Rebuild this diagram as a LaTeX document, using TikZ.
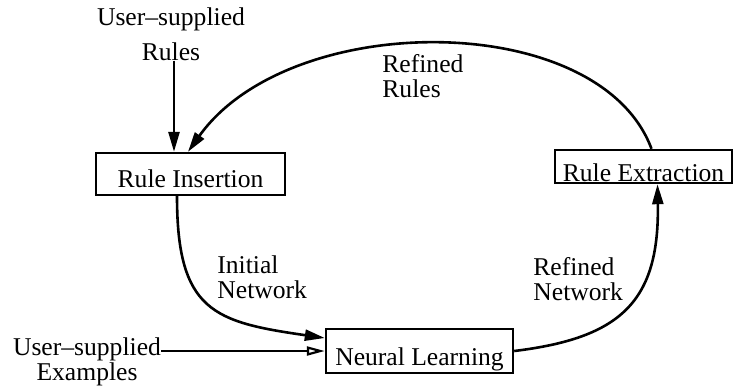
\documentclass[tikz,border=0pt]{standalone}
\usepackage{fontspec}
\setmainfont{Liberation Serif}
\usetikzlibrary{arrows.meta}
\begin{document}
\begin{tikzpicture}[x=0.5pt,y=-0.5pt]
\tikzstyle{box} = [draw, line width=1.2pt, inner sep=0pt, font=\fontsize{12.8}{12.5}\selectfont];
\tikzstyle{lbl} = [inner sep=0pt, font=\fontsize{12.8}{12.5}\selectfont];
\tikzstyle{arr} = [line width=1.3pt, -{Triangle[length=10pt,width=5.5pt]}];
\tikzstyle{oarr} = [line width=1.1pt, -{Triangle[open,length=9pt,width=4.5pt]}];
\useasboundingbox (0,0) rectangle (734,387);

\node[box, minimum width=94.5pt, text height=17pt, text depth=4pt] (ins) at (190.5,174) {Rule Insertion};
\node[box, minimum width=88.5pt, text height=15.5pt, text depth=1pt] (ext) at (643.5,166.5) {Rule Extraction};
\node[box, minimum width=93.5pt, text height=18pt, text depth=4pt] (nl) at (419.5,351) {Neural Learning};

\node[lbl, align=center, anchor=base] (usr) at (171,60) {User--supplied\\[5pt]Rules};
\node[lbl, align=left, anchor=base west] (rr) at (382,97) {Refined\\Rules};
\node[lbl, align=left, anchor=base west] (inet) at (217,298) {Initial\\Network};
\node[lbl, align=left, anchor=base west] (rnet) at (533,300) {Refined\\Network};
\node[lbl, align=center, anchor=base] (exm) at (87,380) {User--supplied\\Examples};

\draw[arr] ([xshift=1.5pt]usr.south) -- ([xshift=1.5pt]usr.south |- ins.north);
\draw[arr] ([xshift=4pt]ext.north) .. controls +(-52,-140) and +(102,-143) .. ([xshift=-1.25pt]ins.north);
\draw[arr] ([xshift=-6.75pt]ins.south) .. controls +(0,115) and +(-111,-16) .. ([yshift=6.5pt]nl.west);
\draw[arr] (nl.east) .. controls +(107,-13) and +(2,117) .. ([xshift=7pt]ext.south);
\draw[oarr] (exm.east |- nl.west) -- (nl.west);
\end{tikzpicture}
\end{document}
